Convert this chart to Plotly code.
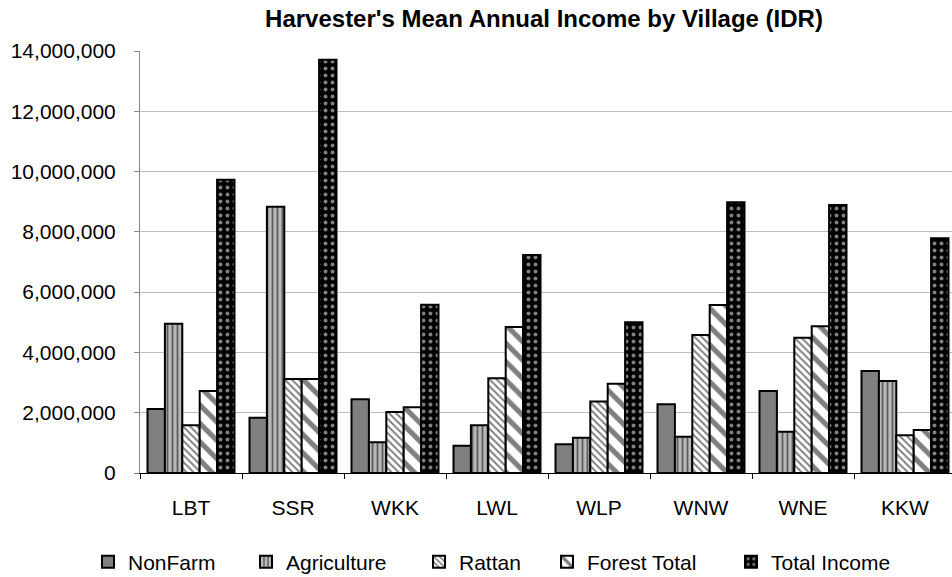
import plotly.graph_objects as go

villages = ["LBT", "SSR", "WKK", "LWL", "WLP", "WNW", "WNE", "KKW"]
nonfarm = [2120000, 1830000, 2450000, 900000, 950000, 2280000, 2720000, 3380000]
agriculture = [4950000, 8830000, 1020000, 1580000, 1170000, 1200000, 1370000, 3050000]
rattan = [1580000, 3120000, 2020000, 3140000, 2370000, 4580000, 4490000, 1250000]
forest_total = [2720000, 3120000, 2180000, 4840000, 2960000, 5570000, 4870000, 1430000]
total_income = [9730000, 13710000, 5580000, 7230000, 5000000, 8980000, 8890000, 7790000]

FONT = "Liberation Sans, Arial, sans-serif"

series = [
    ("NonFarm", nonfarm, dict(color="#808080", pattern=dict(shape=""))),
    ("Agriculture", agriculture, dict(color="#c8c8c8",
        pattern=dict(shape="|", fgcolor="#000000", bgcolor="#b8b8b8", size=5, solidity=0.35))),
    ("Rattan", rattan, dict(color="#ffffff",
        pattern=dict(shape="\\", fgcolor="#000000", bgcolor="#ffffff", size=5, solidity=0.4))),
    ("Forest Total", forest_total, dict(color="#ffffff",
        pattern=dict(shape="\\", fgcolor="#000000", bgcolor="#ffffff", size=13, solidity=0.4))),
    ("Total Income", total_income, dict(color="#000000",
        pattern=dict(shape=".", fgcolor="#ffffff", bgcolor="#000000", size=7, solidity=0.25))),
]
# where each legend entry's text begins (px from left)
legend_text_x = [128, 286, 459, 587, 771]
legend_keys = ["legend", "legend2", "legend3", "legend4", "legend5"]

fig = go.Figure()
for (name, vals, mk), key in zip(series, legend_keys):
    mk = dict(mk)
    mk["line"] = dict(color="#000000", width=2)
    fig.add_trace(go.Bar(name=name, x=villages, y=vals, marker=mk, legend=key))

legend_common = dict(orientation="h", xref="container", yref="container",
                     xanchor="left", y=1 - 562 / 577, yanchor="middle",
                     font=dict(family=FONT, size=21, color="#000000"),
                     itemwidth=30, bgcolor="rgba(0,0,0,0)", borderwidth=0)
legends = {}
for key, tx in zip(legend_keys, legend_text_x):
    legends[key] = dict(legend_common, x=(tx - 40) / 952)

fig.update_layout(
    width=952, height=577,
    margin=dict(l=140, r=0, t=51, b=104, pad=0),
    paper_bgcolor="white", plot_bgcolor="white",
    barmode="group", bargap=0.147, bargroupgap=0,
    font=dict(family=FONT, size=21, color="#000000"),
    title=dict(text="Harvester's Mean Annual Income by Village (IDR)",
               font=dict(family=FONT, size=24, color="#000000", weight="bold"),
               x=544 / 952, xanchor="center", xref="container",
               y=1 - 19 / 577, yanchor="middle", yref="container"),
    showlegend=True,
    **legends,
)

fig.update_xaxes(
    range=[-0.5, -0.5 + (952 - 140) / 102],
    showline=True, linecolor="#000000", linewidth=1,
    ticks="outside", tickson="boundaries", ticklen=5, tickcolor="#000000",
    ticklabelstandoff=16,
    showgrid=False, zeroline=False,
    tickfont=dict(family=FONT, size=21, color="#000000"),
)
fig.update_yaxes(
    range=[0, 14000000], dtick=2000000, tickformat=",d",
    showline=True, linecolor="#868686", linewidth=1,
    ticks="outside", ticklen=5, tickcolor="#868686",
    ticklabelstandoff=14,
    showgrid=True, gridcolor="#bcbcbc", gridwidth=1,
    zeroline=False,
    tickfont=dict(family=FONT, size=21, color="#000000"),
)

fig.write_html("out.html", config={"displayModeBar": False},
               post_script="document.body.style.margin='0px';")
